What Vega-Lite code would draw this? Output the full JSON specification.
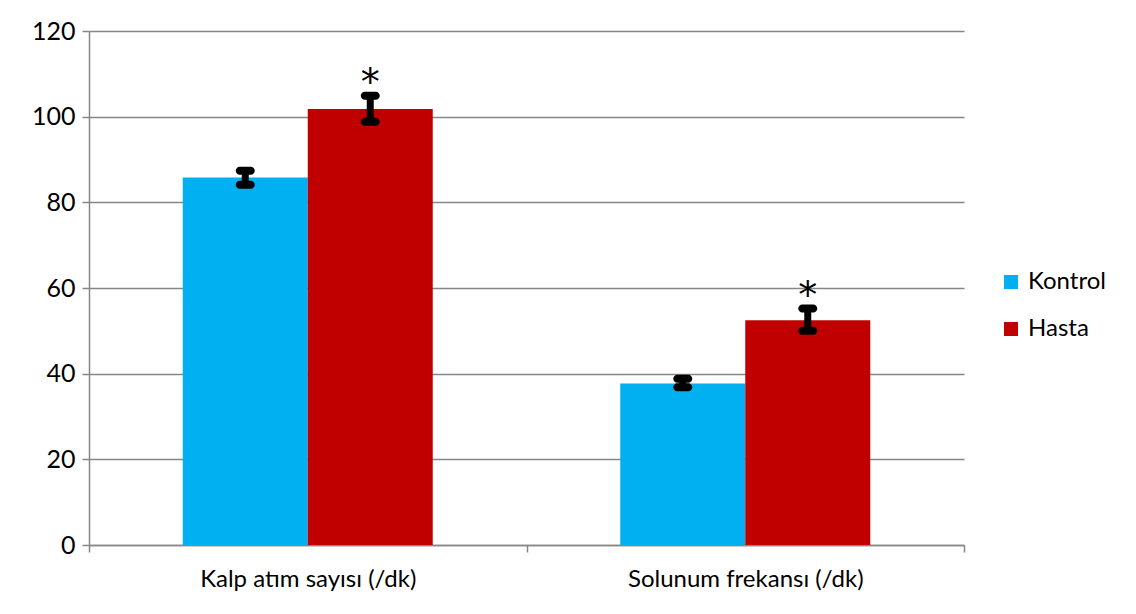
{
  "$schema": "https://vega.github.io/schema/vega-lite/v6.json",
  "width": 875,
  "height": 514,
  "autosize": {"type": "none"},
  "padding": {"left": 89, "top": 31, "right": 172, "bottom": 69},
  "background": "white",
  "config": {"view": {"stroke": null}, "font": "Lato"},
  "data": {"values": [
    {"param": "Kalp atım sayısı (/dk)", "group": "Kontrol", "mean": 85.8, "lo": 84.1, "hi": 87.4, "sig": ""},
    {"param": "Kalp atım sayısı (/dk)", "group": "Hasta", "mean": 101.8, "lo": 98.8, "hi": 104.9, "sig": "*"},
    {"param": "Solunum frekansı (/dk)", "group": "Kontrol", "mean": 37.7, "lo": 36.8, "hi": 38.8, "sig": ""},
    {"param": "Solunum frekansı (/dk)", "group": "Hasta", "mean": 52.5, "lo": 50.0, "hi": 55.2, "sig": "*"}
  ]},
  "encoding": {
    "x": {
      "field": "param", "type": "nominal", "sort": null,
      "scale": {"paddingInner": 0, "paddingOuter": 0},
      "axis": {"title": null, "tickBand": "extent", "labelAngle": 0, "labelFontSize": 24, "labelLimit": 420, "labelPadding": 15, "tickSize": 7, "domainColor": "#868686", "tickColor": "#868686", "domainWidth": 1.5, "tickWidth": 1.5, "labelColor": "#000000", "grid": false}
    },
    "xOffset": {"field": "group", "type": "nominal", "sort": ["Kontrol", "Hasta"], "scale": {"paddingInner": 0, "paddingOuter": 0.75}}
  },
  "layer": [
    {
      "mark": {"type": "bar"},
      "encoding": {
        "y": {"field": "mean", "type": "quantitative", "scale": {"domain": [0, 120]},
          "axis": {"title": null, "values": [0, 20, 40, 60, 80, 100, 120], "grid": true, "gridColor": "#868686", "gridWidth": 1.5, "domainColor": "#868686", "domainWidth": 1.5, "tickColor": "#868686", "tickWidth": 1.5, "tickSize": 7, "labelFontSize": 25, "labelColor": "#000000", "labelPadding": 7}},
        "color": {"field": "group", "type": "nominal", "sort": ["Kontrol", "Hasta"],
          "scale": {"domain": ["Kontrol", "Hasta"], "range": ["#00B0F0", "#C00000"]},
          "legend": {"title": null, "orient": "none", "legendX": 910, "legendY": 239, "symbolType": "square", "symbolSize": 196, "symbolStrokeWidth": 0, "labelFontSize": 24, "labelColor": "#000000", "rowPadding": 23, "labelOffset": 5}}
      }
    },
    {
      "mark": {"type": "rule", "strokeWidth": 7, "color": "#000000"},
      "encoding": {"y": {"field": "lo", "type": "quantitative"}, "y2": {"field": "hi"}}
    },
    {
      "mark": {"type": "tick", "color": "#000000", "thickness": 8, "size": 19, "cornerRadius": 4, "opacity": 1},
      "encoding": {"y": {"field": "lo", "type": "quantitative"}}
    },
    {
      "mark": {"type": "tick", "color": "#000000", "thickness": 8, "size": 19, "cornerRadius": 4, "opacity": 1},
      "encoding": {"y": {"field": "hi", "type": "quantitative"}}
    },
    {
      "mark": {"type": "text", "font": "DejaVu Sans", "fontSize": 38, "baseline": "alphabetic", "dy": -1, "color": "#000000"},
      "encoding": {"y": {"field": "hi", "type": "quantitative"}, "text": {"field": "sig"}}
    }
  ]
}
